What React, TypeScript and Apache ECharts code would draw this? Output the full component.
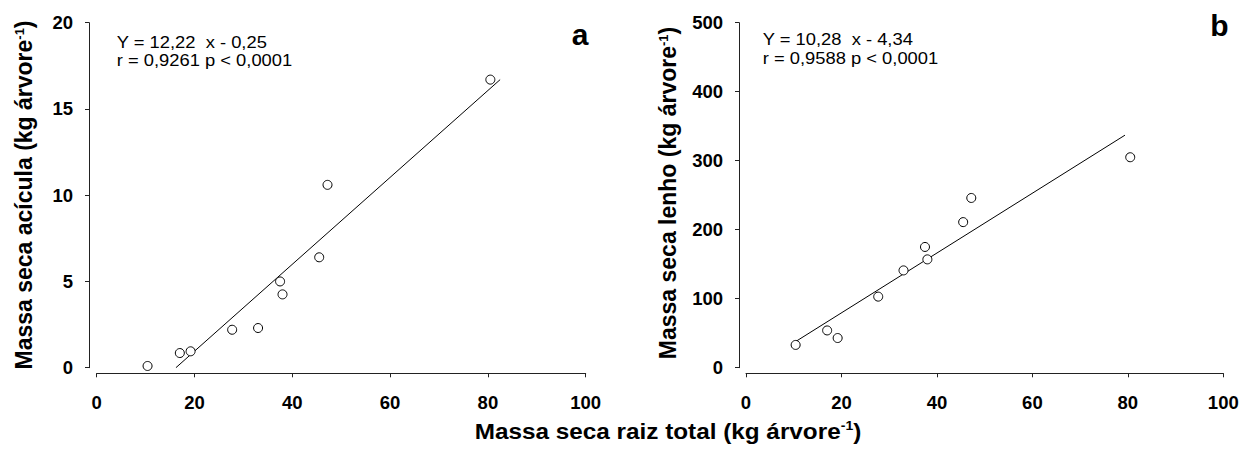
import React, { useEffect, useRef } from "react";
import * as echarts from "echarts";

// Root dry mass per tree (shared by both panels)
const raizTotal = [10.4, 17, 19.2, 27.7, 33, 37.5, 38, 45.5, 47.2, 80.5];
// Panel a: needle dry mass
const massaAcicula = [0.1, 0.85, 0.95, 2.2, 2.3, 5.0, 4.25, 6.4, 10.6, 16.7];
// Panel b: wood dry mass
const massaLenho = [33, 54, 43, 103, 141, 175, 157, 211, 246, 305];

// Fitted line end points [x, y]
const ajusteA = [
  [16.2, 0],
  [82.5, 16.7],
];
const ajusteB = [
  [10.2, 37],
  [79.4, 337],
];

const xTicks = { min: 0, max: 100, interval: 20 };
const yTicksA = { min: 0, max: 20, interval: 5 };
const yTicksB = { min: 0, max: 500, interval: 100 };

const eqA = ["Y = 12,22  x - 0,25", "r = 0,9261 p < 0,0001"];
const eqB = ["Y = 10,28  x - 4,34", "r = 0,9588 p < 0,0001"];

const FONT = '"Liberation Sans", Arial, Helvetica, sans-serif';
const INK = "#000";
const AXIS = "#222";
const WIDEN = 1.08;

const supRich = {
  sup: { fontSize: 13, fontWeight: "bold", fontFamily: FONT, fill: INK, verticalAlign: "top" },
};

function axisX(gridIndex: number) {
  return {
    type: "value",
    gridIndex,
    ...xTicks,
    offset: 5.6,
    splitLine: { show: false },
    axisLine: { show: true, onZero: false, lineStyle: { color: AXIS, width: 1 } },
    axisTick: { show: true, length: 4, lineStyle: { color: AXIS } },
    axisLabel: { color: INK, fontSize: 18.5, fontWeight: "bold", fontFamily: FONT, margin: 20 },
  };
}

function axisY(gridIndex: number, ticks: any, offset: number) {
  return {
    type: "value",
    gridIndex,
    ...ticks,
    offset,
    splitLine: { show: false },
    axisLine: { show: true, onZero: false, lineStyle: { color: AXIS, width: 1 } },
    axisTick: { show: true, length: 4, lineStyle: { color: AXIS } },
    axisLabel: { color: INK, fontSize: 18.5, fontWeight: "bold", fontFamily: FONT, margin: 16 },
  };
}

function pontos(ys: number[]) {
  return raizTotal.map((x, i) => [x, ys[i]]);
}

function scatter(idx: number, ys: number[]) {
  return {
    type: "scatter",
    xAxisIndex: idx,
    yAxisIndex: idx,
    data: pontos(ys),
    symbol: "circle",
    symbolSize: 9,
    z: 5,
    itemStyle: { color: "#fff", borderColor: INK, borderWidth: 1, opacity: 1 },
  };
}

function reta(idx: number, pts: number[][]) {
  return {
    type: "line",
    xAxisIndex: idx,
    yAxisIndex: idx,
    data: pts,
    showSymbol: false,
    symbol: "none",
    z: 3,
    lineStyle: { color: INK, width: 1 },
  };
}

function equacao(x: number, y1: number, y2: number, lines: string[]) {
  return [lines[0], lines[1]].map((t, i) => ({
    type: "text",
    x,
    y: i === 0 ? y1 : y2,
    scaleX: WIDEN,
    style: {
      text: t,
      fontSize: 17,
      fontFamily: FONT,
      fill: INK,
      align: "left",
      verticalAlign: "middle",
    },
  }));
}

function titulo(text: string, x: number, y: number, fontSize: number, vertical: boolean) {
  return {
    type: "text",
    x,
    y,
    rotation: vertical ? Math.PI / 2 : 0,
    scaleX: vertical ? 1 : WIDEN,
    style: {
      text,
      fontSize,
      fontWeight: "bold",
      fontFamily: FONT,
      fill: INK,
      align: "center",
      verticalAlign: "middle",
      rich: supRich,
    },
  };
}

export default function App() {
  const ref = useRef<HTMLDivElement>(null);

  useEffect(() => {
    if (!ref.current) return;
    const chart = echarts.init(ref.current, undefined, { renderer: "svg" });

    const option = {
      animation: false,
      backgroundColor: "#fff",
      grid: [
        { left: 96.7, top: 22.7, width: 489, height: 345 },
        { left: 746, top: 22.7, width: 477.3, height: 345 },
      ],
      xAxis: [axisX(0), axisX(1)],
      yAxis: [axisY(0, yTicksA, 7.7), axisY(1, yTicksB, 7)],
      series: [reta(0, ajusteA), scatter(0, massaAcicula), reta(1, ajusteB), scatter(1, massaLenho)],
      graphic: [
        ...equacao(116.7, 42, 60.5, eqA),
        ...equacao(762.7, 39.5, 58, eqB),
        {
          type: "text",
          x: 580,
          y: 34,
          style: {
            text: "a",
            fontSize: 30,
            fontWeight: "bold",
            fontFamily: FONT,
            fill: INK,
            align: "center",
            verticalAlign: "middle",
          },
        },
        {
          type: "text",
          x: 1219.5,
          y: 25,
          style: {
            text: "b",
            fontSize: 30,
            fontWeight: "bold",
            fontFamily: FONT,
            fill: INK,
            align: "center",
            verticalAlign: "middle",
          },
        },
        titulo("Massa seca acícula (kg árvore{sup|-1})", 24, 195, 23, true),
        titulo("Massa seca lenho (kg árvore{sup|-1})", 668, 193, 23, true),
        titulo("Massa seca raiz total (kg árvore{sup|-1})", 668, 431, 22.5, false),
      ],
    };

    chart.setOption(option as any);
    return () => chart.dispose();
  }, []);

  return (
    <div
      ref={ref}
      style={{ position: "fixed", left: 0, top: 0, width: 1243, height: 450, background: "#fff" }}
    />
  );
}
